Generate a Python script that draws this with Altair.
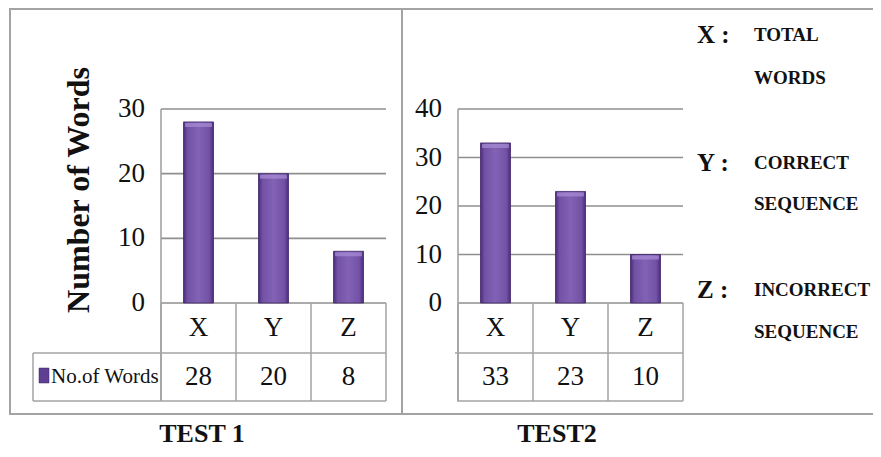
import altair as alt
import pandas as pd

# ---- data ----
CATS = ["X", "Y", "Z"]
TEST1_VALUES = [28, 20, 8]
TEST2_VALUES = [33, 23, 10]
TEST1_TICKS = [0, 10, 20, 30]
TEST2_TICKS = [0, 10, 20, 30, 40]
SERIES_NAME = "No.of Words"
Y_TITLE = "Number of Words"
PANEL_TITLES = ["TEST 1", "TEST2"]
LEGEND_KEYS = ["X :", "Y :", "Z :"]
LEGEND_DESC = [["TOTAL", "WORDS"], ["CORRECT", "SEQUENCE"], ["INCORRECT", "SEQUENCE"]]

# ---- styling / layout ----
FONT = "Liberation Serif"
GRID = "#8f8f8f"
LINE = "#a3a3a3"
TXT = "#111111"
Y0, YTOP = 295, 101          # pixel range of the value scale
ROW1_BOT, ROW2_BOT = 345, 393
ROW1_MID, ROW2_MID = 320, 369

BAR_FILL = alt.LinearGradient(
    gradient="linear",
    stops=[
        alt.GradientStop(color="#4a2c7a", offset=0),
        alt.GradientStop(color="#7352a6", offset=0.14),
        alt.GradientStop(color="#8162b4", offset=0.5),
        alt.GradientStop(color="#7352a6", offset=0.86),
        alt.GradientStop(color="#4a2c7a", offset=1),
    ],
    x1=0, x2=1, y1=0, y2=0,
)

one = pd.DataFrame({"k": [0]})


def hline(x0, x1, y, color=LINE, w=1.5):
    return alt.Chart(one).mark_rule(color=color, strokeWidth=w).encode(
        x=alt.value(x0), x2=alt.value(x1), y=alt.value(y))


def vline(x, y0, y1, color=LINE, w=1.5):
    return alt.Chart(one).mark_rule(color=color, strokeWidth=w).encode(
        x=alt.value(x), y=alt.value(y0), y2=alt.value(y1))


def text(s, x, y, size, bold=False, align="center", angle=0):
    kw = dict(font=FONT, fontSize=size, color=TXT, align=align, baseline="middle")
    if bold:
        kw["fontWeight"] = "bold"
    if angle:
        kw["angle"] = angle
    return alt.Chart(one).mark_text(text=s, **kw).encode(x=alt.value(x), y=alt.value(y))


def panel(values, ticks, x0, x1, label_right, title, title_x, first):
    df = pd.DataFrame({"cat": CATS, "val": values})
    tk = pd.DataFrame({"tick": ticks})
    xs = alt.Scale(domain=CATS, range=[x0, x1], paddingInner=0, paddingOuter=0)
    ys = alt.Scale(domain=[0, max(ticks)], range=[Y0, YTOP])

    def X(**kw):
        return alt.X("cat:N", scale=xs, axis=None, **kw)

    grid = alt.Chart(tk).mark_rule(color=GRID, strokeWidth=1.6).encode(
        y=alt.Y("tick:Q", scale=ys, axis=None), x=alt.value(x0), x2=alt.value(x1))
    tlabels = alt.Chart(tk).mark_text(
        align="right", baseline="middle", font=FONT, fontSize=27, color=TXT
    ).encode(y=alt.Y("tick:Q", scale=ys, axis=None), x=alt.value(label_right), text="tick:Q")
    bars = alt.Chart(df).mark_bar(
        width=alt.RelativeBandSize(0.4), color=BAR_FILL, stroke="#3f2668", strokeWidth=0.8
    ).encode(x=X(), y=alt.Y("val:Q", scale=ys, axis=None))
    caps = alt.Chart(df).mark_tick(
        size=27, thickness=4, yOffset=3, color="#a98fd6"
    ).encode(x=X(), y=alt.Y("val:Q", scale=ys, axis=None))
    axis_line = alt.Chart(df.iloc[[0]]).mark_rule(color=LINE, strokeWidth=1.6).encode(
        x=X(bandPosition=0), y=alt.value(YTOP), y2=alt.value(ROW2_BOT))
    vlines = alt.Chart(df).mark_rule(color=LINE, strokeWidth=1.5).encode(
        x=X(bandPosition=0), y=alt.value(Y0), y2=alt.value(ROW2_BOT))
    vlast = alt.Chart(df.iloc[[-1]]).mark_rule(color=LINE, strokeWidth=1.5).encode(
        x=X(bandPosition=1), y=alt.value(Y0), y2=alt.value(ROW2_BOT))
    row1 = alt.Chart(df).mark_text(font=FONT, fontSize=27, color=TXT, baseline="middle").encode(
        x=X(), y=alt.value(ROW1_MID), text="cat:N")
    row2 = alt.Chart(df).mark_text(font=FONT, fontSize=27, color=TXT, baseline="middle").encode(
        x=X(), y=alt.value(ROW2_MID), text="val:Q")
    ttl = text(title, title_x, 426, 26, bold=True)

    layers = [grid, bars, caps, tlabels, axis_line, vlines, vlast, row1, row2, ttl]
    if first:
        layers += [
            hline(25, x1, ROW1_BOT), hline(25, x1, ROW2_BOT), vline(25, ROW1_BOT, ROW2_BOT),
            alt.Chart(one).mark_rect(color="#5f3f92", stroke="#3f2668", strokeWidth=0.5).encode(
                x=alt.value(31), x2=alt.value(41), y=alt.value(360), y2=alt.value(375)),
            text(SERIES_NAME, 43, ROW2_MID, 21, align="left"),
            text(Y_TITLE, 71, 182, 32, bold=True, angle=270),
            alt.Chart(one).mark_rect(filled=False, stroke=LINE, strokeWidth=2).encode(
                x=alt.value(2), x2=alt.value(394), y=alt.value(1), y2=alt.value(406)),
        ]
    else:
        layers += [
            hline(447, x1, ROW1_BOT), hline(449, x1, ROW2_BOT),
            hline(394, 865, 1, w=2), hline(394, 865, 406, w=2),
        ]
    return alt.layer(*layers)


p1 = panel(TEST1_VALUES, TEST1_TICKS, 153, 378, 137, PANEL_TITLES[0], 194, True)
p2 = panel(TEST2_VALUES, TEST2_TICKS, 450, 675, 434, PANEL_TITLES[1], 549, False)

legend_y = [(27, 70), (155, 196), (282, 324)]
leg = []
for key, desc, (ya, yb) in zip(LEGEND_KEYS, LEGEND_DESC, legend_y):
    leg.append(text(key, 689, ya, 25, bold=True, align="left"))
    leg.append(text(desc[0], 746, ya, 19, bold=True, align="left"))
    leg.append(text(desc[1], 746, yb, 19, bold=True, align="left"))
legend = alt.layer(*leg)

chart = (
    alt.layer(p1, p2, legend)
    .resolve_scale(x="independent", y="independent")
    .properties(width=865, height=441, padding=0, autosize=alt.AutoSizeParams(type="none"))
    .configure_view(strokeWidth=0)
)

chart.save("out.html", embed_options={"renderer": "svg", "actions": False})
